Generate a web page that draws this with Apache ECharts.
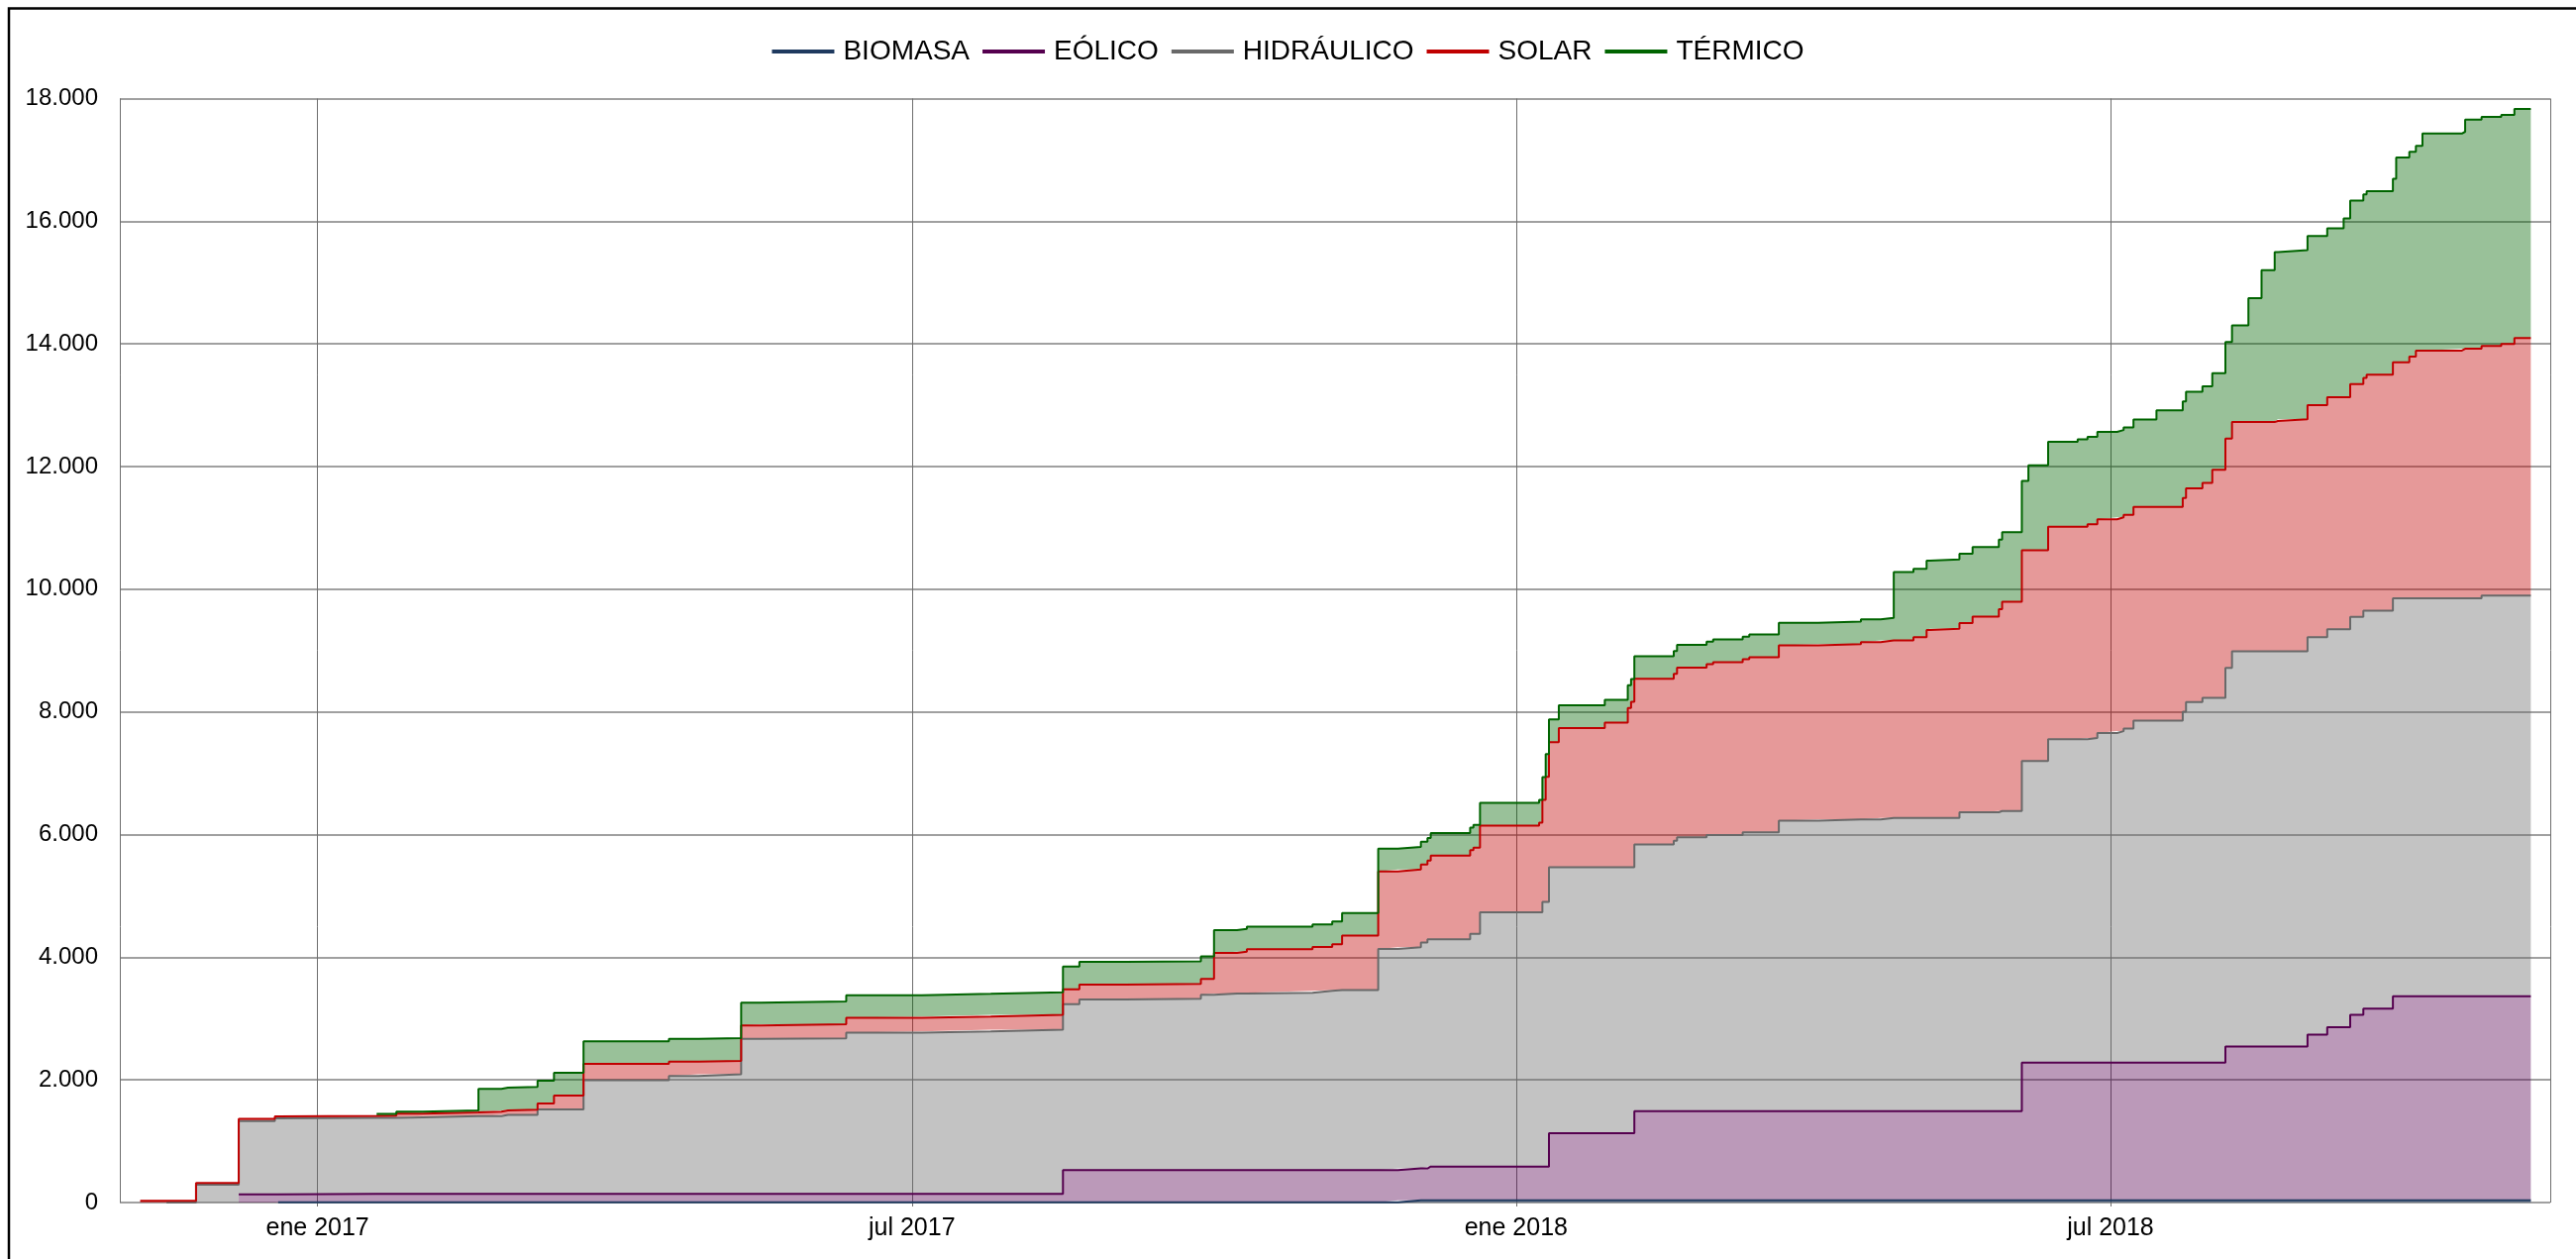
<!DOCTYPE html>
<html>
<head>
<meta charset="utf-8">
<title>Potencia instalada acumulada por tecnología</title>
<script src="https://cdn.jsdelivr.net/npm/echarts@6/dist/echarts.min.js"></script>
<style>
  html, body { margin: 0; padding: 0; background: #ffffff; }
  #chart { width: 2601px; height: 1271px; }
</style>
</head>
<body>
<div id="chart"></div>
<script>
// Potencia acumulada (MW) por tecnología: [fecha de cambio, valor vigente desde esa fecha]
const biomasa = [['2016-12-20', 5], ['2017-11-26', 35]];

const eolico = [
  ['2016-12-08', 135], ['2017-08-16', 522], ['2017-12-05', 551], ['2018-01-11', 1095],
  ['2018-02-06', 1455], ['2018-06-04', 2248], ['2018-08-05', 2510], ['2018-08-30', 2702],
  ['2018-09-05', 2823], ['2018-09-12', 3025], ['2018-09-16', 3126], ['2018-09-25', 3328]
];

const hidraulico = [
  ['2016-11-16', 0], ['2016-11-25', 290], ['2016-12-08', 1195], ['2016-12-19', 1239],
  ['2017-01-25', 1250], ['2017-02-02', 1270], ['2017-02-26', 1290], ['2017-03-09', 1377],
  ['2017-03-23', 1855], ['2017-04-18', 1924], ['2017-04-27', 1951], ['2017-05-10', 2527],
  ['2017-05-16', 2537], ['2017-06-11', 2629], ['2017-07-04', 2650], ['2017-07-25', 2677],
  ['2017-08-16', 2709], ['2017-08-21', 2785], ['2017-09-04', 2795], ['2017-09-27', 2860],
  ['2017-10-01', 2881], ['2017-10-11', 2892], ['2017-10-31', 2924], ['2017-11-06', 2938],
  ['2017-11-20', 3607], ['2017-12-03', 3684], ['2017-12-05', 3705], ['2017-12-18', 3793],
  ['2017-12-21', 4146], ['2018-01-09', 4316], ['2018-01-11', 4336], ['2018-02-06', 4350],
  ['2018-02-18', 4411], ['2018-02-19', 4466], ['2018-02-28', 4500], ['2018-03-11', 4547],
  ['2018-03-22', 4738], ['2018-04-03', 4758], ['2018-04-22', 4779], ['2018-05-16', 4873],
  ['2018-05-28', 4893], ['2018-06-04', 4918], ['2018-06-12', 5272], ['2018-06-24', 5292],
  ['2018-06-27', 5373], ['2018-07-03', 5403], ['2018-07-05', 5444], ['2018-07-08', 5575],
  ['2018-07-23', 5718], ['2018-07-24', 5876], ['2018-07-29', 5947], ['2018-08-05', 6171],
  ['2018-08-07', 6444], ['2018-08-30', 6483], ['2018-09-05', 6490], ['2018-10-22', 6535]
];

const solar = [
  ['2016-11-08', 30], ['2016-12-08', 33], ['2017-01-19', 38], ['2017-01-25', 60],
  ['2017-02-19', 72], ['2017-02-28', 85], ['2017-03-09', 100], ['2017-03-14', 229],
  ['2017-03-23', 265], ['2017-04-18', 235], ['2017-04-27', 220], ['2017-05-16', 231],
  ['2017-06-11', 242], ['2017-09-27', 258], ['2017-10-01', 662], ['2017-10-08', 683],
  ['2017-10-11', 710], ['2017-10-31', 715], ['2017-11-06', 747], ['2017-11-09', 887],
  ['2017-11-20', 1265], ['2017-12-03', 1271], ['2017-12-05', 1284], ['2017-12-06', 1365],
  ['2017-12-19', 1407], ['2017-12-21', 1414], ['2018-01-08', 1462], ['2018-01-09', 1665],
  ['2018-01-10', 2040], ['2018-01-14', 2271], ['2018-01-28', 2359], ['2018-02-04', 2597],
  ['2018-02-05', 2699], ['2018-02-18', 2719], ['2018-02-19', 2766], ['2018-02-28', 2787],
  ['2018-03-02', 2821], ['2018-03-13', 2855], ['2018-04-16', 2889], ['2018-04-22', 2895],
  ['2018-05-02', 2949], ['2018-05-06', 3065], ['2018-05-07', 3086], ['2018-05-20', 3192],
  ['2018-05-28', 3293], ['2018-05-29', 3414], ['2018-06-04', 3434], ['2018-06-12', 3464],
  ['2018-06-24', 3485], ['2018-07-29', 3503], ['2018-08-01', 3716], ['2018-08-05', 3739],
  ['2018-08-20', 3754], ['2018-08-21', 3783], ['2018-09-12', 3796], ['2018-09-17', 3848],
  ['2018-09-30', 3940], ['2018-10-02', 4038], ['2018-10-16', 4067], ['2018-10-28', 4100],
  ['2018-11-01', 4198]
];

const termico = [
  ['2017-01-19', 27], ['2017-01-25', 32], ['2017-02-19', 370], ['2018-04-26', 1115],
  ['2018-05-06', 1131], ['2018-06-06', 1384], ['2018-06-21', 1424], ['2018-07-15', 1575],
  ['2018-08-12', 2017], ['2018-08-16', 2473], ['2018-08-20', 2755], ['2018-09-10', 2916],
  ['2018-09-12', 2990], ['2018-09-26', 3338], ['2018-10-04', 3539], ['2018-10-17', 3735]
];

// Último día con datos
const fechaFinal = '2018-11-06';

const nombres = ['BIOMASA', 'EÓLICO', 'HIDRÁULICO', 'SOLAR', 'TÉRMICO'];
const colores = ['#1f3a5f', '#55004f', '#696969', '#c00000', '#006400'];
const meses = ['ene', 'feb', 'mar', 'abr', 'may', 'jun', 'jul', 'ago', 'sep', 'oct', 'nov', 'dic'];
const yMax = 18000;
const yPaso = 2000;

function aTiempo(s) {
  const [a, m, d] = s.split('-').map(Number);
  return new Date(a, m - 1, d).getTime();
}

// Tabla común de fechas: cada serie mantiene su último valor hasta el siguiente cambio
const tecnologias = [biomasa, eolico, hidraulico, solar, termico];
const fechas = Array.from(new Set(tecnologias.flat().map(p => p[0]).concat([fechaFinal]))).sort();
const tabla = tecnologias.map(cambios => fechas.map(f => {
  let v = null;
  for (const [fc, val] of cambios) { if (fc <= f) v = val; }
  return [aTiempo(f), v];
}));

function miles(v) {
  return String(v).replace(/\B(?=(\d{3})+(?!\d))/g, '.');
}

const fuente = '"Liberation Sans", Arial, Helvetica, sans-serif';
const chart = echarts.init(document.getElementById('chart'), null, { renderer: 'canvas' });

chart.setOption({
  animation: false,
  backgroundColor: '#ffffff',
  textStyle: { fontFamily: fuente },
  graphic: [{
    type: 'rect',
    silent: true,
    z: 100,
    shape: { x: 9, y: 8.5, width: 3000, height: 3000 },
    style: { fill: 'none', stroke: '#000000', lineWidth: 2.5 }
  }],
  legend: {
    top: 33,
    left: 'center',
    icon: 'rect',
    itemWidth: 63,
    itemHeight: 4,
    itemGap: 13,
    selectedMode: false,
    data: nombres,
    textStyle: { fontSize: 28, color: '#000000', fontFamily: fuente, padding: [0, 0, 0, 4] }
  },
  grid: { left: 121, right: 26, top: 99.5, bottom: 57, containLabel: false },
  xAxis: {
    type: 'time',
    min: new Date(2016, 10, 1, 19).getTime(),
    max: new Date(2018, 10, 11, 22).getTime(),
    splitNumber: 4,
    minInterval: 181 * 86400000,
    maxInterval: 184 * 86400000,
    axisLine: { show: false },
    axisTick: { show: true, length: 4, lineStyle: { color: '#6e6e6e', width: 1 } },
    splitLine: { show: true, lineStyle: { color: '#6e6e6e', width: 1 } },
    axisLabel: {
      fontSize: 25,
      color: '#000000',
      margin: 14,
      fontFamily: fuente,
      showMinLabel: false,
      showMaxLabel: false,
      formatter: function (v) {
        const d = new Date(v);
        return meses[d.getMonth()] + ' ' + d.getFullYear();
      }
    }
  },
  yAxis: {
    type: 'value',
    min: 0,
    max: yMax,
    interval: yPaso,
    axisLine: { show: false },
    axisTick: { show: false },
    splitLine: { show: true, lineStyle: { color: '#808080', width: 1.5 } },
    axisLabel: { fontSize: 24, color: '#000000', margin: 22, fontFamily: fuente, formatter: miles }
  },
  series: nombres.map((nombre, i) => ({
    name: nombre,
    type: 'line',
    stack: 'total',
    step: 'end',
    symbol: 'none',
    showSymbol: false,
    color: colores[i],
    data: tabla[i],
    lineStyle: { width: 2, color: colores[i] },
    itemStyle: { color: colores[i] },
    areaStyle: { color: colores[i], opacity: 0.4 },
    emphasis: { disabled: true }
  }))
});
</script>
</body>
</html>
